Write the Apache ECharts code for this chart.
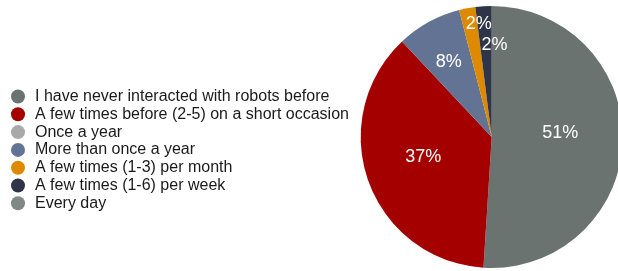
<!DOCTYPE html>
<html>
<head>
<meta charset="utf-8">
<script src="https://cdn.jsdelivr.net/npm/echarts@6/dist/echarts.min.js"></script>
<style>
    html, body { margin: 0; padding: 0; background: #fff; }
    #chart { width: 618px; height: 271px; }
</style>
</head>
<body>
<div id="chart"></div>
<script>
var categories = [
    'I have never interacted with robots before',
    'A few times before (2-5) on a short occasion',
    'Once a year',
    'More than once a year',
    'A few times (1-3) per month',
    'A few times (1-6) per week',
    'Every day'
];
var values = [51, 37, 0, 8, 2, 2, 0];
var colors = ['#6b7370', '#a50000', '#a9a9a9', '#637393', '#de8a00', '#2f3548', '#808984'];

// label nudges, the original places them a bit off the mid radius
var labelOffsets = {
    0: [0, -6],
    1: [-4, -3],
    3: [-10, -15],
    4: [0, -46],
    5: [7, -24]
};

window.onload = function () {
    var chart = echarts.init(document.getElementById('chart'));

    var data = categories.map(function (name, i) {
        var item = { name: name, value: values[i] };
        if (labelOffsets[i]) {
            item.label = { offset: labelOffsets[i] };
        }
        return item;
    });

    var option = {
        animation: false,
        color: colors,
        legend: {
            orient: 'vertical',
            left: 11,
            top: 88.5,
            padding: 0,
            icon: 'circle',
            itemWidth: 14,
            itemHeight: 14,
            itemGap: 1.8,
            textStyle: {
                fontFamily: 'Liberation Sans',
                fontSize: 16,
                color: '#1a1a1a',
                lineHeight: 14,
                padding: [0, 0, 0, 5]
            },
            selectedMode: false
        },
        series: [{
            type: 'pie',
            center: [491.7, 137],
            radius: [0, 131],
            startAngle: 90,
            clockwise: true,
            silent: true,
            data: data,
            label: {
                position: 'inside',
                color: '#fff',
                fontFamily: 'Liberation Sans',
                fontSize: 18,
                formatter: function (p) {
                    return p.value ? p.value + '%' : '';
                }
            },
            labelLine: { show: false },
            itemStyle: {
                borderColor: '#fff',
                borderWidth: 0
            }
        }]
    };
    chart.setOption(option);
};
</script>
</body>
</html>
